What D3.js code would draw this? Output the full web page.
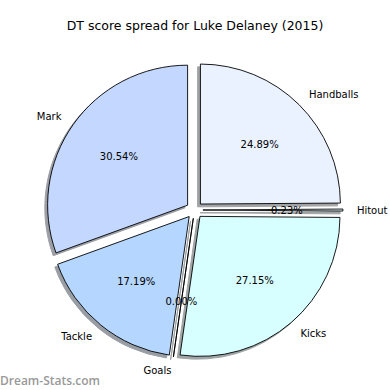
<!DOCTYPE html>
<html>
<head>
<meta charset="utf-8">
<script src="https://cdn.jsdelivr.net/npm/d3@7"></script>
<style>
html,body{margin:0;padding:0;background:#fff;}
svg{display:block;}
</style>
</head>
<body>
<svg id="chart" width="390" height="390"></svg>
<script>
const categories = ["Handballs", "Hitout", "Kicks", "Goals", "Tackle", "Mark"];
const values = [24.89, 0.23, 27.15, 0.00, 17.19, 30.54];
const colors = ["#eaf1ff", "#e0f8ff", "#d8ffff", "#c8f0ff", "#b4d6ff", "#c4d8ff"];
const title = "DT score spread for Luke Delaney (2015)";
const watermark = "Dream-Stats.com";

const svg = d3.select("#chart");
const W = 390, H = 390;
const cx = 194.5, cy = 210, R = 140;
const explode = 0.06;
const shadowOff = 0.02 * R;

svg.append("rect").attr("width", W).attr("height", H).attr("fill", "#fff");

svg.append("text")
  .attr("x", W / 2).attr("y", 30)
  .attr("text-anchor", "middle")
  .attr("font-family", "DejaVu Sans")
  .attr("font-size", 12.5)
  .attr("fill", "#000")
  .text(title);

const data = categories.map((c, i) => ({ cat: c, val: values[i], color: colors[i] }));
const pie = d3.pie().sort(null).value(d => d.val).startAngle(0).endAngle(2 * Math.PI);
const arcs = pie(data);
const arc = d3.arc().innerRadius(0).outerRadius(R);

const g = svg.append("g").attr("transform", `translate(${cx},${cy})`);

function shade(c) {
  const col = d3.rgb(c);
  return d3.rgb(col.r * 0.3, col.g * 0.3, col.b * 0.3).toString();
}

arcs.forEach(a => {
  const mid = (a.startAngle + a.endAngle) / 2;
  const dx = Math.sin(mid) * explode * R;
  const dy = -Math.cos(mid) * explode * R;
  const wg = g.append("g").attr("transform", `translate(${dx},${dy})`);
  wg.append("path")
    .attr("d", arc(a))
    .attr("transform", `translate(${-shadowOff},${shadowOff})`)
    .attr("fill", shade(a.data.color))
    .attr("stroke", shade(a.data.color))
    .attr("stroke-width", 1)
    .attr("opacity", 0.5);
});

arcs.forEach(a => {
  const mid = (a.startAngle + a.endAngle) / 2;
  const dx = Math.sin(mid) * explode * R;
  const dy = -Math.cos(mid) * explode * R;
  const wg = g.append("g").attr("transform", `translate(${dx},${dy})`);
  wg.append("path")
    .attr("d", arc(a))
    .attr("fill", a.data.color)
    .attr("stroke", "#000")
    .attr("stroke-width", 0.9)
    .attr("stroke-linejoin", "round");
});

arcs.forEach(a => {
  const mid = (a.startAngle + a.endAngle) / 2;
  const sx = Math.sin(mid), sy = -Math.cos(mid);
  const ox = sx * explode * R, oy = sy * explode * R;
  g.append("text")
    .attr("x", ox + sx * 1.1 * R)
    .attr("y", oy + sy * 1.1 * R)
    .attr("text-anchor", sx > 0 ? "start" : "end")
    .attr("dominant-baseline", "central")
    .attr("font-family", "DejaVu Sans")
    .attr("font-size", 10)
    .attr("fill", "#000")
    .text(a.data.cat);
  g.append("text")
    .attr("x", ox + sx * 0.6 * R)
    .attr("y", oy + sy * 0.6 * R)
    .attr("text-anchor", "middle")
    .attr("dominant-baseline", "central")
    .attr("font-family", "DejaVu Sans")
    .attr("font-size", 10)
    .attr("fill", "#000")
    .text(a.data.val.toFixed(2) + "%");
});

svg.append("text")
  .attr("x", 0).attr("y", 385)
  .attr("font-family", "Open Sans")
  .attr("font-weight", 600)
  .attr("font-size", 12)
  .attr("fill", "#999")
  .text(watermark);
</script>
</body>
</html>
